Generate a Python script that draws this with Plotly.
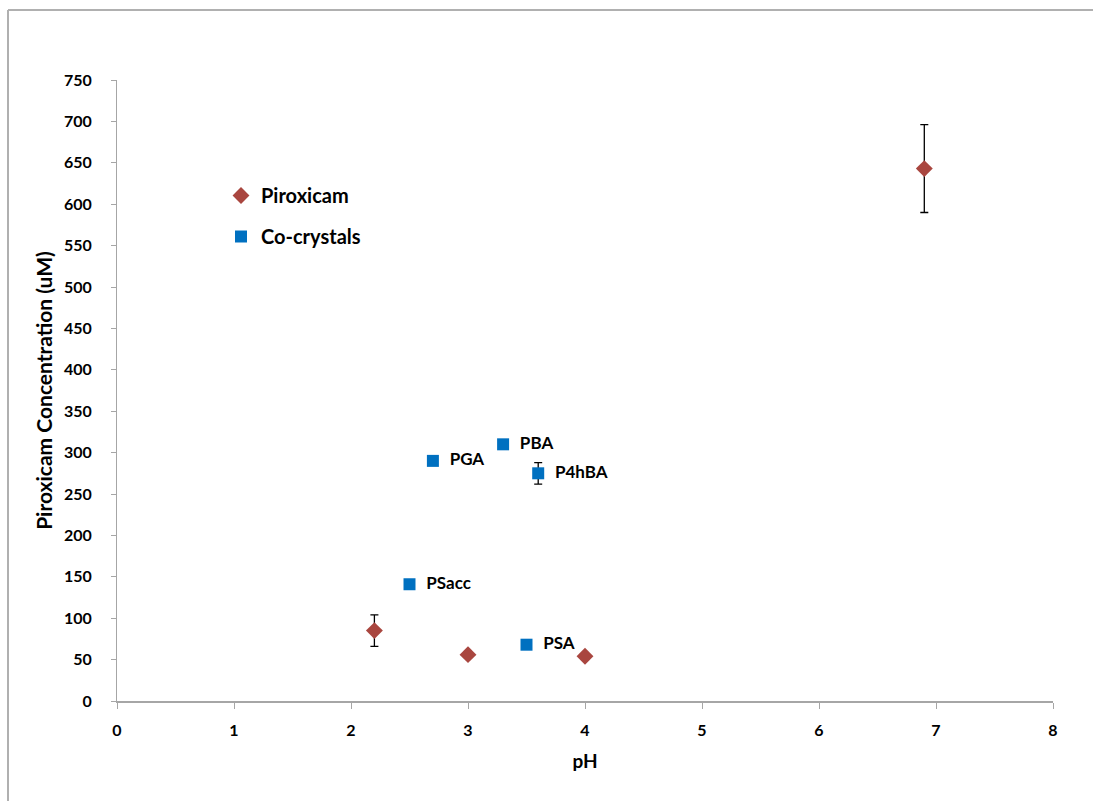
import plotly.graph_objects as go

# Data
pir_ph = [2.2, 3.0, 4.0, 6.9]
pir_conc = [85, 56, 54, 643]
pir_err = [19, None, None, 53]

co_names = ["PSacc", "PGA", "PBA", "PSA", "P4hBA"]
co_ph = [2.5, 2.7, 3.3, 3.5, 3.6]
co_conc = [141, 290, 310, 68, 275]
co_err = [None, None, None, None, 13]

FONT = "Lato"
AXIS_COLOR = "#a6a6a6"

fig = go.Figure()

fig.add_trace(go.Scatter(
    x=pir_ph, y=pir_conc, mode="markers", name="Piroxicam",
    legendgroup="a",
    marker=dict(symbol="diamond", size=13, color="#a9463f"),
    error_y=dict(type="data", array=pir_err, visible=True, color="black",
                 thickness=1.3, width=4),
))

fig.add_trace(go.Scatter(
    x=co_ph, y=co_conc, mode="markers+text", name="Co-crystals",
    legendgroup="b",
    text=["  " + n for n in co_names], textposition="middle right",
    textfont=dict(family=FONT, size=17, color="black", weight="bold"),
    marker=dict(symbol="square", size=12, color="#0070c0"),
    error_y=dict(type="data", array=co_err, visible=True, color="black",
                 thickness=1.3, width=4),
))

# chart border (outer frame)
L, T = 117, 80
W, H = 936, 621
bx = (8 - L) / W
by = (701 - 10) / H
fig.add_shape(type="line", xref="paper", yref="paper", x0=bx, x1=1.2, y0=by, y1=by,
              line=dict(color="#b0b0b0", width=2))
fig.add_shape(type="line", xref="paper", yref="paper", x0=bx, x1=bx, y0=by, y1=-0.3,
              line=dict(color="#b0b0b0", width=2))

fig.update_layout(
    width=1093, height=801,
    margin=dict(l=L, r=1093 - 1053, t=T, b=100),
    paper_bgcolor="white", plot_bgcolor="white",
    font=dict(family=FONT, color="black"),
    showlegend=True,
    legend=dict(
        x=(221 - L) / W, y=(701 - 176) / H, xanchor="left", yanchor="top",
        font=dict(family=FONT, size=20, color="black", weight="bold"),
        bgcolor="rgba(0,0,0,0)", tracegroupgap=12, itemwidth=30,
    ),
    xaxis=dict(
        range=[0, 8], dtick=1, tick0=0, showgrid=False, zeroline=False,
        showline=True, linecolor=AXIS_COLOR, linewidth=2,
        ticks="outside", ticklen=6, tickcolor=AXIS_COLOR, tickwidth=1,
        ticklabelstandoff=8,
        tickfont=dict(family=FONT, size=16, color="black", weight="bold"),
        title=dict(text="pH", font=dict(family=FONT, size=19, color="black", weight="bold"),
                   standoff=16),
    ),
    yaxis=dict(
        range=[0, 750], dtick=50, tick0=0, showgrid=False, zeroline=False,
        showline=True, linecolor=AXIS_COLOR, linewidth=1,
        ticks="outside", ticklen=5, tickcolor=AXIS_COLOR, tickwidth=1,
        ticklabelstandoff=16,
        tickfont=dict(family=FONT, size=16, color="black", weight="bold"),
        title=dict(text="Piroxicam Concentration (uM)",
                   font=dict(family=FONT, size=21, color="black", weight="bold"),
                   standoff=5),
    ),
)

fig.write_html("out.html")
